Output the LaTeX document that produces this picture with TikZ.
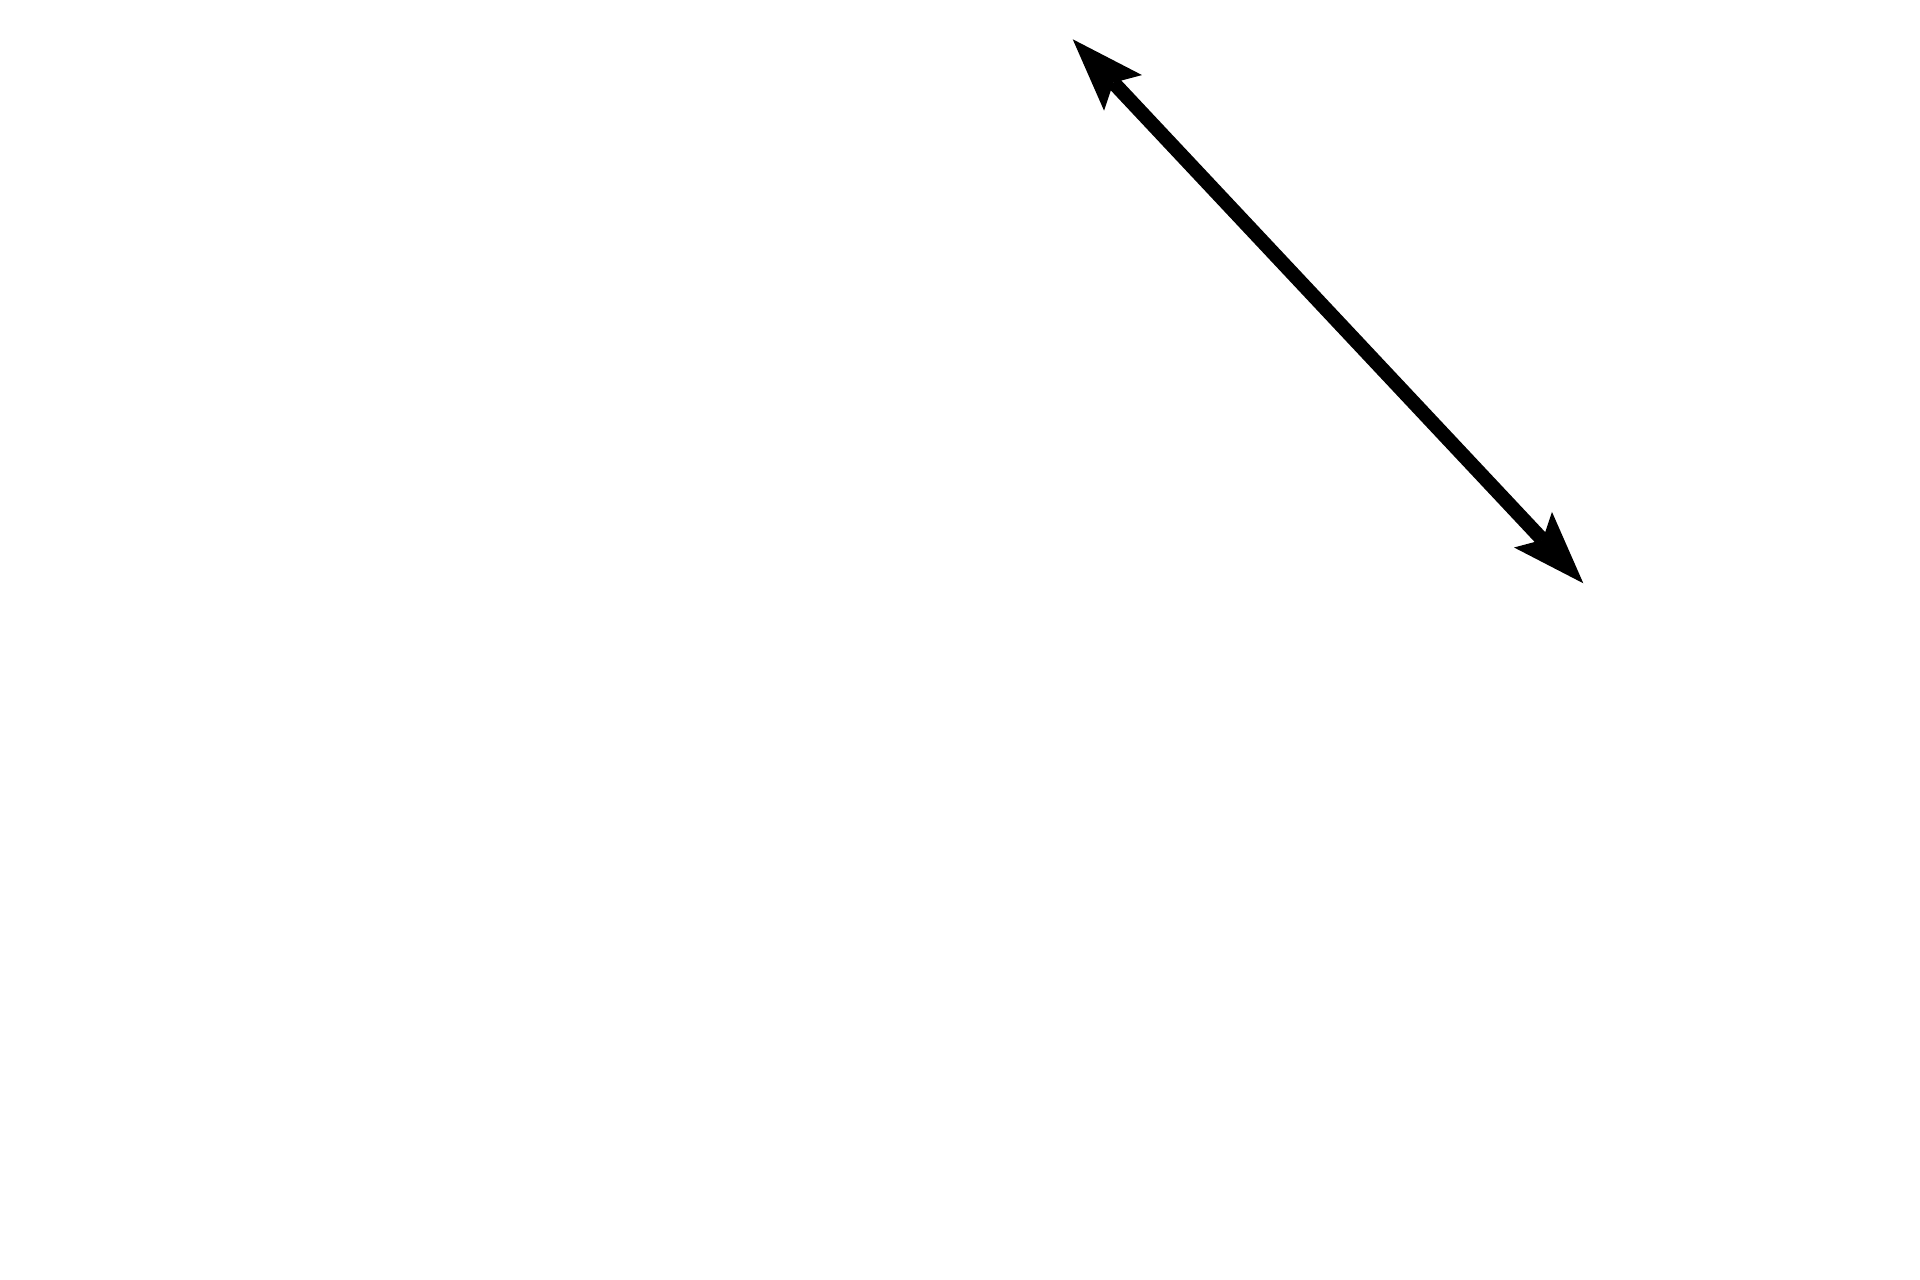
\documentclass[tikz,border=0pt]{standalone}
\usetikzlibrary{arrows.meta}

\begin{document}
\begin{tikzpicture} % a double-headed arrow
\tikzset{biarrow/.style={line width=4.1pt,
	{Stealth[length=7.35mm,width=5.2mm,inset=1.4mm,line width=0pt]}-{Stealth[length=7.35mm,width=5.2mm,inset=1.4mm,line width=0pt]}}}
\useasboundingbox (0,0) rectangle (19.2,12.8);
\coordinate (upper) at (10.727,12.407);
\coordinate (lower) at (15.833,6.967);
\draw[biarrow] (upper) -- (lower);
\end{tikzpicture}
\end{document}
